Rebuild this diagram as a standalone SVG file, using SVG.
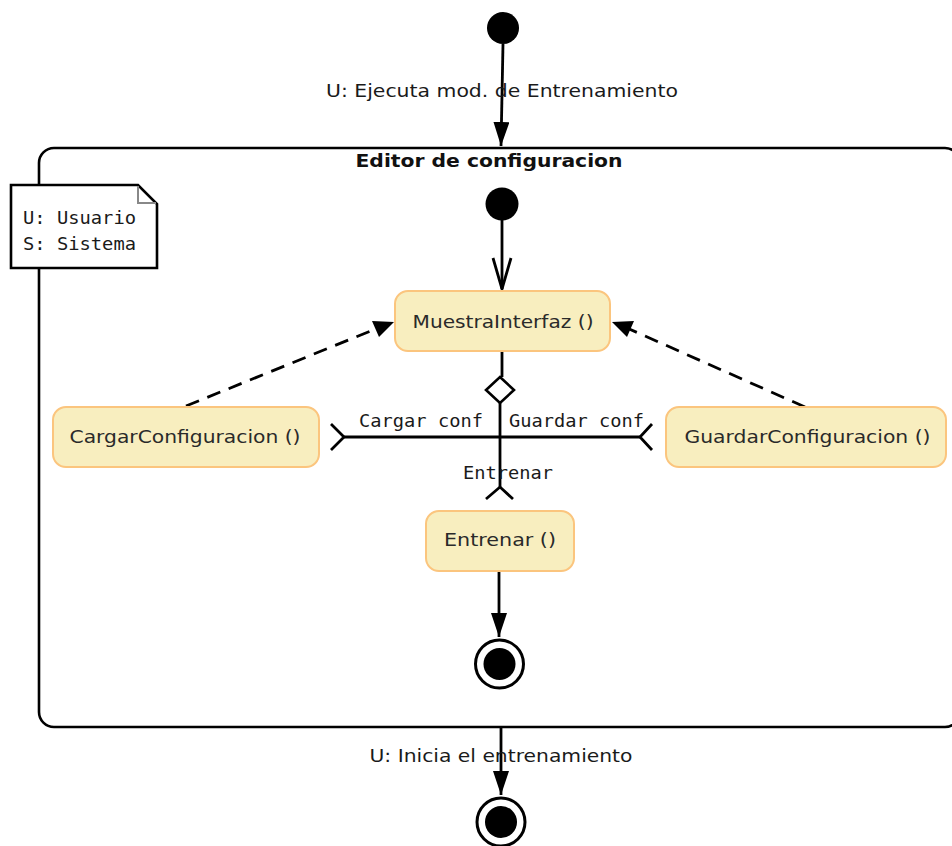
<svg xmlns="http://www.w3.org/2000/svg" width="952" height="846" viewBox="0 0 952 846">
<defs>
<style>
.ln{stroke:#000;stroke-width:2.8;fill:none}
.dash{stroke:#000;stroke-width:2.8;fill:none;stroke-dasharray:14 9}
.act{fill:#f8eebf;stroke:#fbc57e;stroke-width:2}
.at{font-family:"DejaVu Sans","Noto Sans",sans-serif;font-size:18px;fill:#2a2a2a}
.lbl{font-family:"DejaVu Sans","Noto Sans",sans-serif;font-size:18px;fill:#1a1a1a}
.mono{font-family:"DejaVu Sans Mono","Liberation Mono",monospace;font-size:18px;fill:#1a1a1a}
.blk{fill:#000}
</style>
<marker id="fill" markerWidth="24" markerHeight="16" refX="24" refY="8" viewBox="0 0 24 16" orient="auto" markerUnits="userSpaceOnUse">
<path d="M0,0 L24,8 L0,16 Z" fill="#000"/>
</marker>
</defs>
<rect width="952" height="846" fill="#fff"/>

<g id="container">
<rect x="39" y="148" width="921" height="579" rx="15" ry="15" fill="none" stroke="#000" stroke-width="2.6"/>
<text x="489" y="167" text-anchor="middle" font-family="DejaVu Sans,sans-serif" font-weight="bold" font-size="18.5" textLength="267" lengthAdjust="spacingAndGlyphs" fill="#111">Editor de configuracion</text>
</g>

<g id="note">
<path d="M11,185 L138,185 L157,204 L157,268 L11,268 Z" fill="#fff" stroke="#000" stroke-width="2.6"/>
<path d="M138,186 L138,203 L156,203" fill="none" stroke="#888" stroke-width="2"/>
<text x="23" y="224" class="mono" textLength="113" lengthAdjust="spacingAndGlyphs">U: Usuario</text>
<text x="23" y="250" class="mono" textLength="113" lengthAdjust="spacingAndGlyphs">S: Sistema</text>
</g>

<g id="connectors">
<line x1="503" y1="44" x2="501" y2="146" class="ln" marker-end="url(#fill)"/>
<line x1="502" y1="220" x2="502" y2="289" class="ln"/>
<polyline points="493,258 502,289 511,258" class="ln"/>
<line x1="186" y1="406" x2="378" y2="328" class="dash"/>
<path d="M394,322 L372,321 L379,337 Z" fill="#000"/>
<line x1="805" y1="407" x2="627" y2="328" class="dash"/>
<path d="M612,322 L627,337 L634,321 Z" fill="#000"/>
<line x1="502" y1="351" x2="502" y2="377" class="ln"/>
<line x1="500" y1="403" x2="500" y2="487" class="ln"/>
<line x1="344" y1="437" x2="640" y2="437" class="ln"/>
<polyline points="331,424 344,437 331,450" class="ln"/>
<polyline points="652,424 640,437 652,450" class="ln"/>
<polyline points="486,499 500,487 513,499" class="ln"/>
<line x1="499" y1="571" x2="499" y2="637" class="ln" marker-end="url(#fill)"/>
<line x1="501" y1="727" x2="501" y2="795" class="ln" marker-end="url(#fill)"/>
<text x="502" y="97" text-anchor="middle" class="lbl" textLength="352" lengthAdjust="spacingAndGlyphs">U: Ejecuta mod. de Entrenamiento</text>
<text x="359" y="427" class="mono" textLength="124" lengthAdjust="spacingAndGlyphs">Cargar conf</text>
<text x="509" y="427" class="mono" textLength="135" lengthAdjust="spacingAndGlyphs">Guardar conf</text>
<text x="463" y="479" class="mono" textLength="90" lengthAdjust="spacingAndGlyphs">Entrenar</text>
<text x="501" y="762" text-anchor="middle" class="lbl" textLength="263" lengthAdjust="spacingAndGlyphs">U: Inicia el entrenamiento</text>
</g>

<g id="start">
<circle cx="503" cy="28" r="16" class="blk"/>
</g>
<g id="inner-start">
<circle cx="502" cy="204" r="16.5" class="blk"/>
</g>
<g id="MuestraInterfaz">
<rect x="395" y="291" width="215" height="60" rx="13" class="act"/>
<text x="503" y="328" text-anchor="middle" class="at" textLength="181" lengthAdjust="spacingAndGlyphs">MuestraInterfaz ()</text>
</g>
<g id="decision">
<path d="M500,377 L514,390 L500,403 L486,390 Z" fill="#fff" stroke="#000" stroke-width="2.6"/>
</g>
<g id="CargarConfiguracion">
<rect x="53" y="407" width="266" height="60" rx="13" class="act"/>
<text x="185" y="443" text-anchor="middle" class="at" textLength="231" lengthAdjust="spacingAndGlyphs">CargarConfiguracion ()</text>
</g>
<g id="GuardarConfiguracion">
<rect x="666" y="407" width="280" height="60" rx="13" class="act"/>
<text x="807.5" y="443" text-anchor="middle" class="at" textLength="246" lengthAdjust="spacingAndGlyphs">GuardarConfiguracion ()</text>
</g>
<g id="Entrenar">
<rect x="426" y="511" width="148" height="60" rx="13" class="act"/>
<text x="500" y="546" text-anchor="middle" class="at" textLength="112" lengthAdjust="spacingAndGlyphs">Entrenar ()</text>
</g>
<g id="inner-end">
<circle cx="499.5" cy="664" r="24" fill="#fff" stroke="#000" stroke-width="3"/>
<circle cx="499.5" cy="664" r="16" class="blk"/>
</g>
<g id="end">
<circle cx="501" cy="822" r="24" fill="#fff" stroke="#000" stroke-width="3"/>
<circle cx="501" cy="822" r="16" class="blk"/>
</g>
</svg>
